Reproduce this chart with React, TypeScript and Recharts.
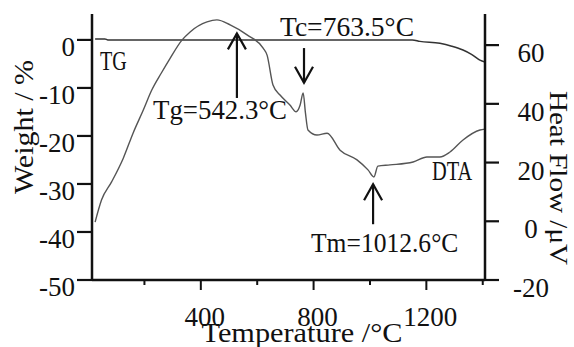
import { ComposedChart, Line, XAxis, YAxis, ReferenceLine } from 'recharts';

// DTA curve (right axis, heat flow in µV)
const dtaTemp = [25, 48, 84, 125, 160, 196, 226, 260, 291, 333, 362, 422, 457, 504, 564, 621, 635, 656, 681, 716, 738, 752, 763, 771, 780, 812, 848, 894, 954, 993, 1014, 1028, 1071, 1153, 1202, 1248, 1284, 1330, 1390, 1408];
const dtaFlow = [-0.3, 7.3, 13.5, 21.5, 30.1, 37.9, 44.7, 50.5, 55.5, 61.7, 64.5, 67.9, 68.6, 66.9, 63.5, 59.0, 56.6, 46.4, 43.0, 39.6, 37.3, 39.5, 43.7, 37.0, 31.1, 29.4, 30.0, 24.2, 20.9, 17.5, 15.1, 18.8, 19.2, 20.2, 21.9, 21.9, 23.6, 27.7, 31.1, 31.4];

// TG curve (left axis, weight %)
const tgTemp = [25, 60, 70, 200, 400, 600, 800, 1000, 1150, 1177, 1248, 1290, 1330, 1360, 1390, 1408];
const tgWeight = [0.2, 0.2, 0, 0, 0, 0, 0, 0, 0, -0.3, -0.7, -1.3, -2.1, -3.0, -4.2, -4.6];

const tempTicks = [200, 400, 600, 800, 1000, 1200, 1400];
const tempLabels = [400, 800, 1200];
const weightTicks = [-50, -40, -30, -20, -10, 0];
const flowTicks = [-20, 0, 20, 40, 60];

// arrows: temperature, tail and tip on the heat-flow axis
const arrowTemp = [528, 766, 1011];
const arrowTail = [42, 59, -1];
const arrowTip = [64, 47.2, 12.6];

const dtaData = dtaTemp.map((t, i) => ({ t, flow: dtaFlow[i] }));
const tgData = tgTemp.map((t, i) => ({ t, weight: tgWeight[i] }));

const FONT = '"Liberation Serif", "DejaVu Serif", serif';
const INK = '#111';

function TempTick({ x, y, payload }: any) {
  const major = tempLabels.includes(payload.value);
  return (
    <g>
      <line x1={x} y1={y} x2={x} y2={y + (major ? 10 : 5)} stroke={INK} strokeWidth={2} />
      {major && (
        <text x={x + 4} y={y + 46} textAnchor="middle" fontFamily={FONT} fontSize={27} fill={INK}>
          {payload.value}
        </text>
      )}
    </g>
  );
}

function WeightTick({ x, y, payload }: any) {
  return (
    <g>
      <line x1={x - 15} y1={y} x2={x} y2={y} stroke={INK} strokeWidth={2.2} />
      <text x={x - 17} y={y + 16} textAnchor="end" fontFamily={FONT} fontSize={27} fill={INK}>
        {payload.value}
      </text>
    </g>
  );
}

function FlowTick({ x, y, payload }: any) {
  return (
    <g>
      <line x1={x} y1={y} x2={x + 14} y2={y} stroke={INK} strokeWidth={2.2} />
      <text x={x + 46} y={y + 17} textAnchor="middle" fontFamily={FONT} fontSize={27} fill={INK}>
        {payload.value}
      </text>
    </g>
  );
}

function Arrow(props: any) {
  const { x1, y1, x2, y2 } = props;
  const dir = y2 < y1 ? 1 : -1;
  return (
    <g>
      <line x1={x1} y1={y1} x2={x2} y2={y2} stroke={INK} strokeWidth={2.2} />
      <polyline
        points={`${x2 - 9},${y2 + dir * 16} ${x2},${y2} ${x2 + 9},${y2 + dir * 16}`}
        fill="none"
        stroke={INK}
        strokeWidth={2.2}
      />
    </g>
  );
}

function Note({ x, y, text, rotate, size = 27 }: { x: number; y: number; text: string; rotate?: number; size?: number }) {
  return (
    <text
      x={x}
      y={y}
      textAnchor={rotate ? 'middle' : 'start'}
      transform={rotate ? `rotate(${rotate} ${x} ${y})` : undefined}
      fontFamily={FONT}
      fontSize={size}
      fill={INK}
      textLength={text.length * 13.4}
      lengthAdjust="spacingAndGlyphs"
    >
      {text}
    </text>
  );
}

export default function App() {
  return (
    <div style={{ position: 'relative', width: 574, height: 347, background: '#fff' }}>
      <style>{'body{margin:0}'}</style>
      <ComposedChart width={574} height={347} margin={{ top: 14, right: 0, bottom: 0, left: 0 }}>
        <XAxis
          dataKey="t"
          type="number"
          domain={[14, 1408]}
          ticks={tempTicks}
          allowDataOverflow
          height={67}
          tickSize={0}
          tickMargin={0}
          tickLine={false}
          tick={<TempTick />}
          axisLine={{ stroke: INK, strokeWidth: 2.5 }}
        />
        <XAxis
          xAxisId="top"
          dataKey="t"
          type="number"
          orientation="top"
          domain={[14, 1408]}
          allowDataOverflow
          height={0}
          tick={false}
          tickLine={false}
          axisLine={{ stroke: '#555', strokeWidth: 1.5 }}
        />
        <YAxis
          yAxisId="left"
          type="number"
          domain={[-50, 5.4]}
          ticks={weightTicks}
          allowDataOverflow
          width={92}
          tickSize={0}
          tickMargin={0}
          tickLine={false}
          tick={<WeightTick />}
          axisLine={{ stroke: INK, strokeWidth: 2.5 }}
        />
        <YAxis
          yAxisId="right"
          orientation="right"
          type="number"
          domain={[-20, 70.6]}
          ticks={flowTicks}
          allowDataOverflow
          width={89}
          tickSize={0}
          tickMargin={0}
          tickLine={false}
          tick={<FlowTick />}
          axisLine={{ stroke: INK, strokeWidth: 2.5 }}
        />
        <Line
          yAxisId="left"
          data={tgData}
          dataKey="weight"
          type="monotone"
          stroke="#333"
          strokeWidth={1.5}
          dot={false}
          isAnimationActive={false}
        />
        <Line
          yAxisId="right"
          data={dtaData}
          dataKey="flow"
          type="monotone"
          stroke="#555"
          strokeWidth={1.4}
          dot={false}
          isAnimationActive={false}
        />
        {arrowTemp.map((t, i) => (
          <ReferenceLine
            key={`arrow-${i}`}
            yAxisId="right"
            segment={[
              { x: t, y: arrowTail[i] },
              { x: t, y: arrowTip[i] },
            ]}
            shape={(p: any) => <Arrow {...p} />}
          />
        ))}
      </ComposedChart>
      <svg width={574} height={347} style={{ position: 'absolute', left: 0, top: 0, pointerEvents: 'none' }}>
        <Note x={280} y={36} text="Tc=763.5°C" />
        <Note x={153} y={119} text="Tg=542.3°C" />
        <Note x={311} y={252} text="Tm=1012.6°C" />
        <Note x={100} y={70} text="TG" />
        <Note x={432} y={180} text="DTA" />
        <Note x={302} y={342} text="Temperature /°C" rotate={0.0001} />
        <Note x={33} y={127} text="Weight / %" rotate={-90} />
        <Note x={550} y={178} text="Heat Flow /μV" rotate={90} size={25} />
      </svg>
    </div>
  );
}
